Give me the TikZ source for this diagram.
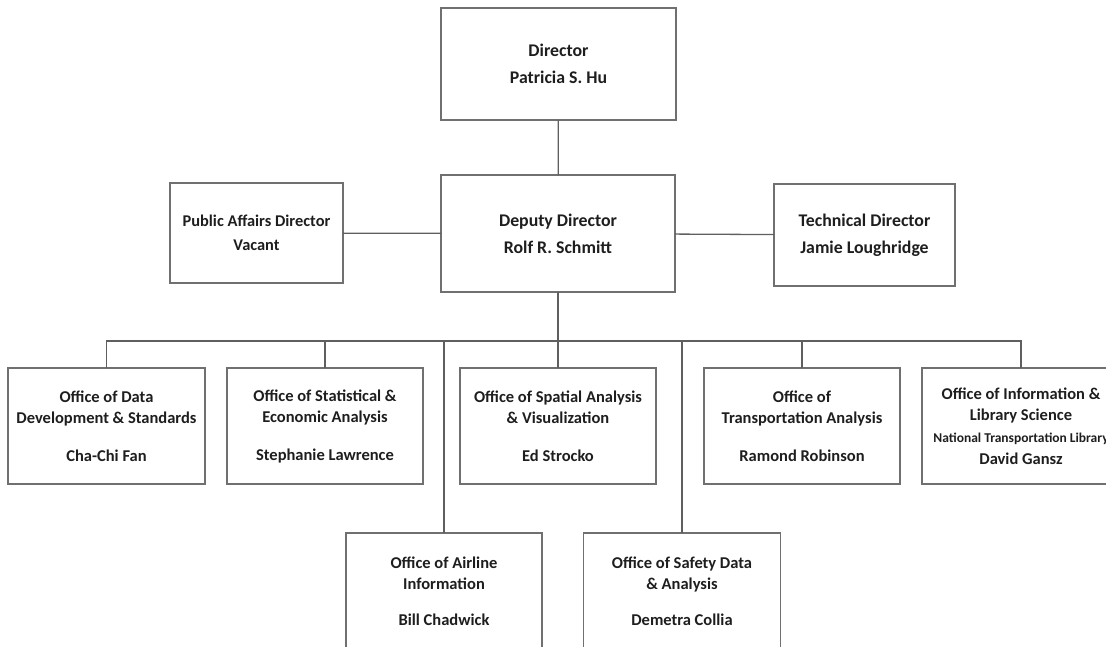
\documentclass[tikz,border=0pt]{standalone}
\usepackage{fontspec}
\setmainfont{Carlito}
\definecolor{boxgray}{RGB}{112,112,112}
\definecolor{linegray}{RGB}{95,95,95}
\definecolor{inkgray}{RGB}{30,30,30}

\begin{document}
\begin{tikzpicture}[
    x=1pt,
    y=-1pt,
    every node/.style={inner sep=0pt,outer sep=0pt,text=inkgray,align=center},
    chiefbox/.style={draw=boxgray,line width=1.6pt,font=\bfseries\fontsize{17.8}{27}\selectfont},
    staffbox/.style={draw=boxgray,line width=1.6pt,font=\bfseries\fontsize{16.4}{24}\selectfont},
    officebox/.style={draw=boxgray,line width=1.6pt,minimum width=196,minimum height=116,
      font=\bfseries\fontsize{16.5}{21}\selectfont},
    link/.style={draw=linegray,line width=1.3pt},
  ]
  \useasboundingbox (0,0) rectangle (1106,646);
  \clip (0,0) rectangle (1106,646);
  \node[chiefbox,minimum width=235,minimum height=112] (dir) at (558.5,64) {Director\\Patricia S. Hu};
  \node[chiefbox,minimum width=234,minimum height=117] (dep) at (558,233.5) {Deputy Director\\Rolf R. Schmitt};
  \node[staffbox,minimum width=173,minimum height=100] (pub) at (256.5,233) {Public Affairs Director\\Vacant};
  \node[chiefbox,minimum width=181,minimum height=102] (tech) at (864.5,235) {Technical Director\\Jamie Loughridge};
  \node[officebox,minimum width=197] (odds) at (106.5,426) {Office of Data\\Development \& Standards\\[17pt]Cha-Chi Fan};
  \node[officebox] (osea) at (325,426) {Office of Statistical \&\\Economic Analysis\\[17pt]Stephanie Lawrence};
  \node[officebox] (osav) at (558,426) {Office of Spatial Analysis\\\& Visualization\\[17pt]Ed Strocko};
  \node[officebox] (ota) at (802,426) {Office of\\Transportation Analysis\\[17pt]Ramond Robinson};
  \node[officebox,minimum width=198] (oils) at (1021,426) {Office of Information \&\\Library Science\\[1pt]{\fontsize{13.5}{16}\selectfont National Transportation Library}\\[1pt]David Gansz};
  \node[officebox] (oai) at (444,591) {Office of Airline\\Information\\[15pt]Bill Chadwick};
  \node[officebox,minimum width=197] (osda) at (682,591) {Office of Safety Data\\\& Analysis\\[15pt]Demetra Collia};
  \coordinate (bus) at (558,341);
  \draw[link] (dir) -- (dep);
  \draw[link] (pub) -- (dep) -- (tech);
  \draw[link] (dep.south) -- (osav.north);
  \draw[link] (odds.north) |- (bus) -| (oils.north);
  \draw[link] (osea.north) -- (osea.north |- bus);
  \draw[link] (ota.north) -- (ota.north |- bus);
  \draw[link] (oai.north) -- (oai.north |- bus);
  \draw[link] (osda.north) -- (osda.north |- bus);
\end{tikzpicture}
\end{document}
